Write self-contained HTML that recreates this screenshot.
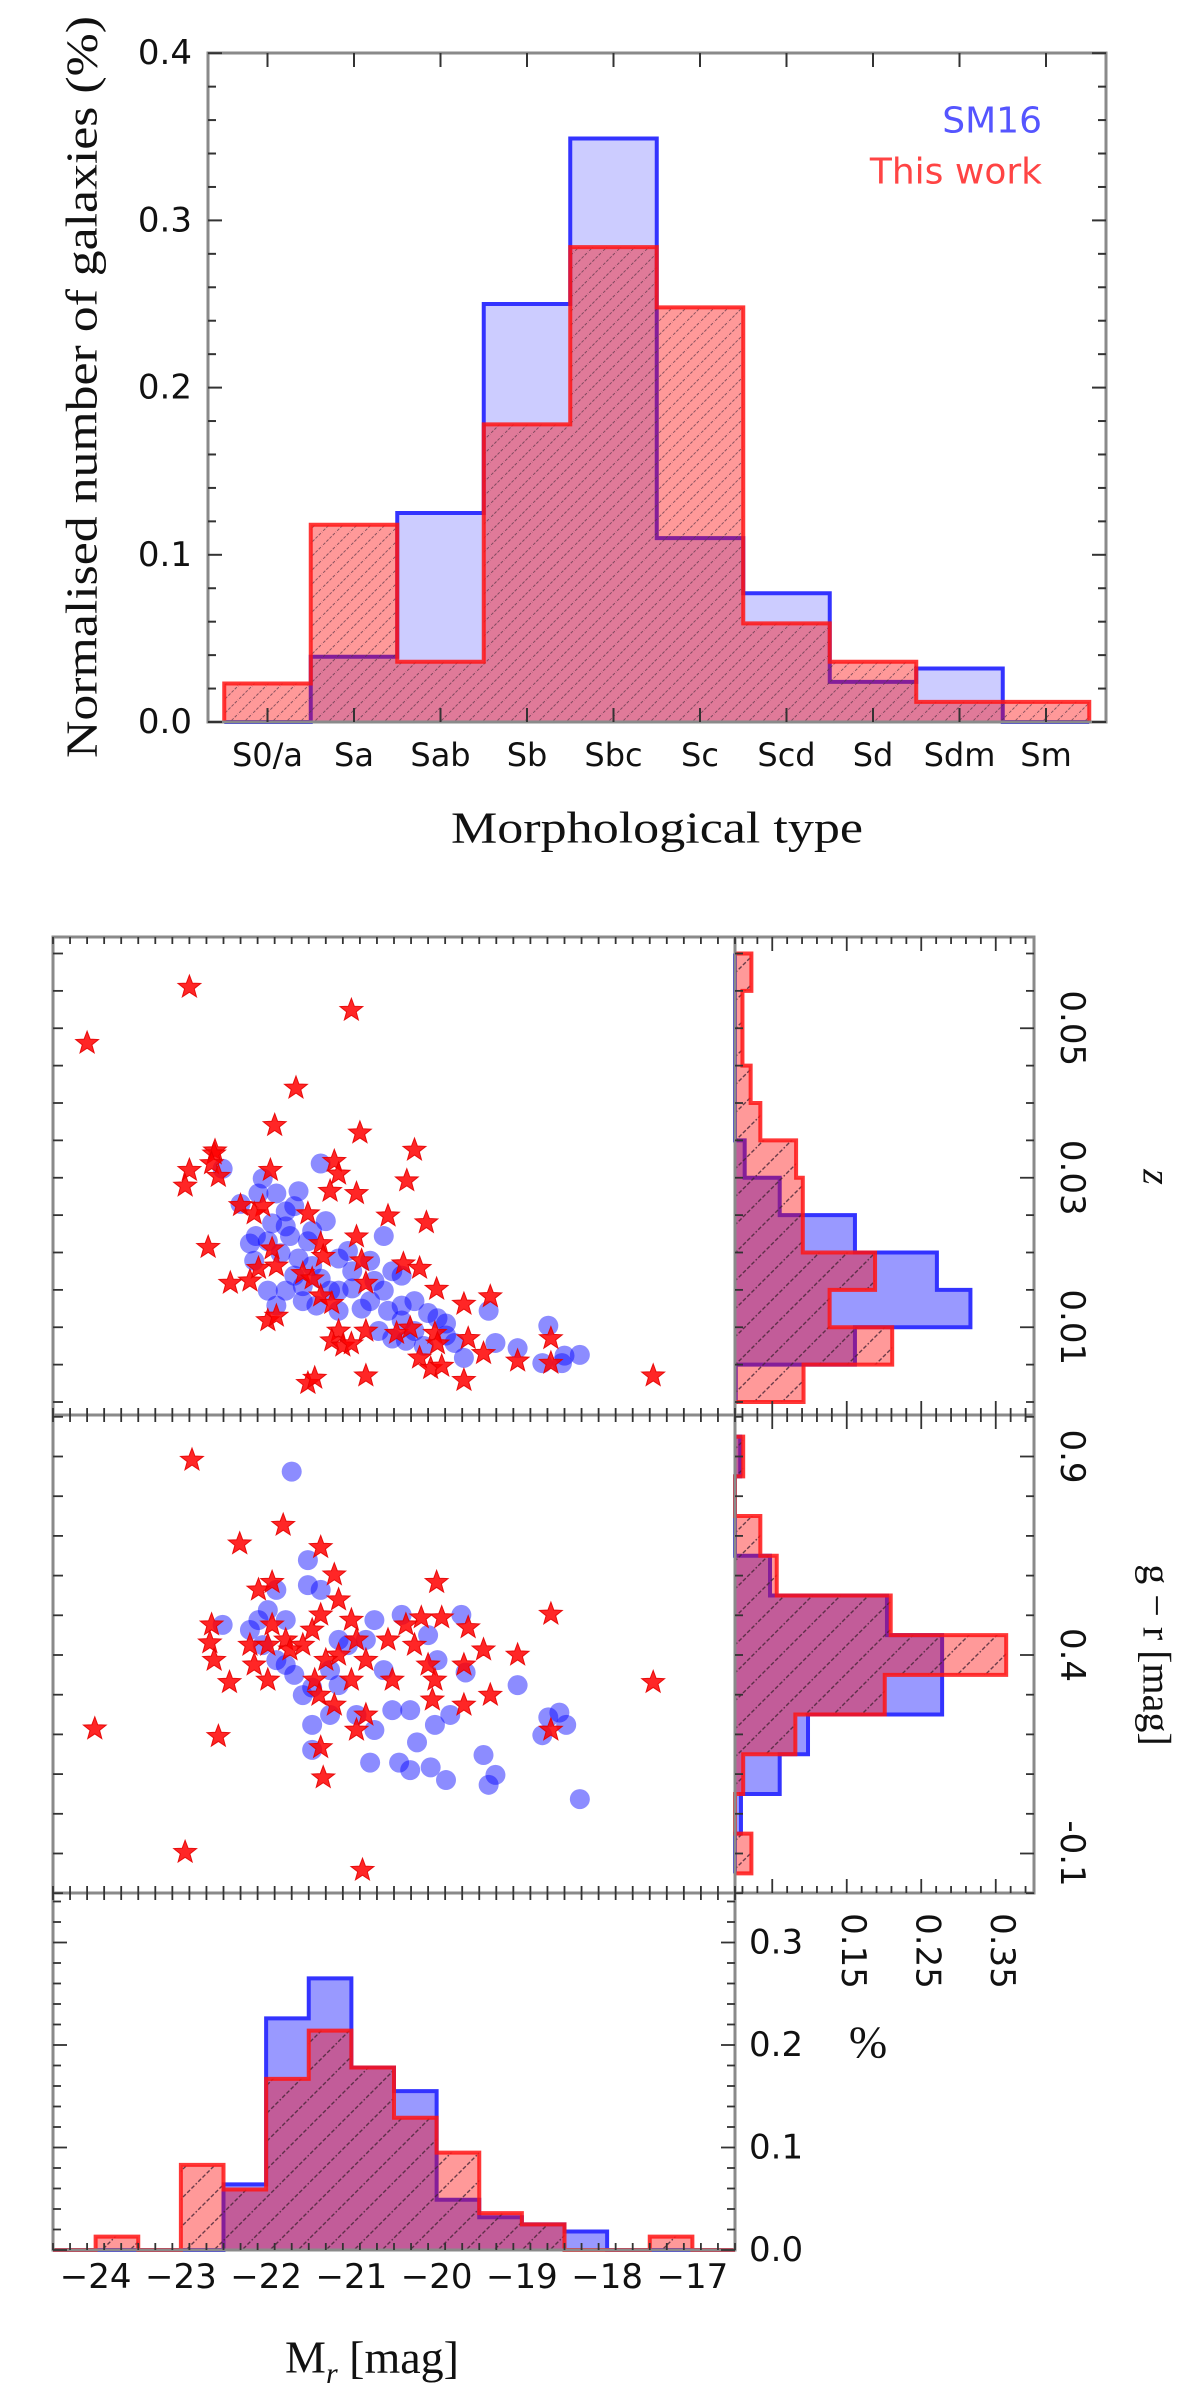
<!DOCTYPE html>
<html><head><meta charset="utf-8"><style>
html,body{margin:0;padding:0;background:#fff;}
svg{display:block;}
text{font-family:"DejaVu Sans","Liberation Sans",sans-serif;fill:#111;}
.serif{font-family:"Liberation Serif","DejaVu Serif",serif;}
</style></head><body>
<svg id="fig" width="1200" height="2400" viewBox="0 0 1200 2400" xmlns="http://www.w3.org/2000/svg">
<defs>
<pattern id="hatchA" patternUnits="userSpaceOnUse" width="14" height="14"><path d="M-2,16 L16,-2 M-2,2 L2,-2 M12,16 L16,12" stroke="#553344" stroke-width="1" stroke-dasharray="3,1.5" opacity="0.7"/></pattern>
<pattern id="hatchB" patternUnits="userSpaceOnUse" width="28" height="28"><path d="M-2,30 L30,-2 M-2,2 L2,-2 M26,30 L30,26" stroke="#442233" stroke-width="1.4" stroke-dasharray="4,2" opacity="0.8"/></pattern>
</defs>
</svg>
<script>
// ---------- data ----------
const categories = ['S0/a','Sa','Sab','Sb','Sbc','Sc','Scd','Sd','Sdm','Sm'];
const morphSM16 = [0,0.039,0.125,0.25,0.349,0.11,0.077,0.024,0.032,0];
const morphThisWork = [0.023,0.118,0.036,0.178,0.284,0.248,0.059,0.036,0.012,0.012];
const morphYTicks = ['0.0','0.1','0.2','0.3','0.4'];

const mrStart = -24.5, mrStep = 0.5;
const mrRed  = [0,0.013,0,0.083,0.059,0.167,0.214,0.178,0.129,0.095,0.036,0.025,0,0,0.013,0];
const mrBlue = [0,0,0,0,0.064,0.226,0.265,0.178,0.155,0.049,0.032,0.025,0.018,0,0,0];
const mrTicks = [-24,-23,-22,-21,-20,-19,-18,-17];
const pctTicks = ['0.0','0.1','0.2','0.3'];

const zStart = 0, zStep = 0.005;
const zRed  = [0.092,0.211,0.127,0.188,0.091,0.091,0.082,0.034,0.021,0.010,0.010,0.022];
const zBlue = [0.001,0.161,0.316,0.271,0.161,0.060,0.013,0,0,0,0,0];
const zTickLabels = ['0.01','0.03','0.05'];

const grStart = -0.15, grStep = 0.1;
const grRed  = [0.022,0,0.011,0.081,0.201,0.364,0.209,0.056,0.034,0,0.011];
const grBlue = [0,0.008,0.060,0.098,0.278,0.278,0.204,0.047,0,0,0.007];
const grTickLabels = ['-0.1','0.4','0.9'];
const pctMarginTicks = ['0.15','0.25','0.35'];

const starMrZ = [[-22.9,0.0555],[-21.0,0.0524],[-24.1,0.048],[-21.65,0.042],[-20.9,0.036],[-21.9,0.037],[-20.35,0.0296],[-22.6,0.0336],[-22.9,0.031],
[-22.61,0.0332],[-22.64,0.0319],[-22.56,0.0302],[-22.95,0.0289],[-21.95,0.031],[-21.2,0.0322],[-21.15,0.0305],[-21.25,0.0282],[-20.94,0.0279],[-20.26,0.0337],
[-22.3,0.0263],[-22.04,0.0262],[-22.14,0.0252],[-21.51,0.0252],[-20.57,0.0249],[-20.12,0.024],[-20.94,0.0221],[-22.68,0.0207],[-21.93,0.0205],[-21.36,0.0212],
[-21.33,0.0195],[-22.09,0.0179],[-21.88,0.0182],[-21.57,0.0172],[-21.46,0.0165],[-20.88,0.0189],[-20.39,0.0185],[-20.2,0.0179],[-22.42,0.0159],[-22.19,0.0162],
[-20.83,0.0159],[-21.36,0.0142],[-21.23,0.0132],[-20.0,0.0151],[-19.68,0.0131],[-19.37,0.0141],[-21.98,0.0109],[-21.88,0.0115],[-21.15,0.0095],[-20.83,0.0095],
[-20.47,0.0092],[-20.31,0.0099],[-21.23,0.0082],[-21.1,0.0075],[-21.0,0.0078],[-20.02,0.0092],[-19.99,0.0078],[-19.63,0.0085],[-19.45,0.0065],[-20.2,0.0059],
[-20.07,0.0045],[-19.94,0.0048],[-19.05,0.0055],[-18.66,0.0085],[-18.66,0.0052],[-20.83,0.0035],[-21.51,0.0025],[-21.43,0.0032],[-19.68,0.0029],[-17.46,0.0035]];
const circMrZ = [[-22.51,0.0312],[-22.04,0.0299],[-22.09,0.0279],[-21.88,0.0279],[-21.62,0.0282],[-21.36,0.0319],[-21.67,0.0262],[-22.12,0.0222],[-21.77,0.0235],
[-21.72,0.0222],[-21.51,0.0215],[-21.98,0.0215],[-21.83,0.0199],[-21.62,0.0192],[-21.46,0.0182],[-21.15,0.0192],[-21.04,0.0202],[-20.62,0.0222],[-20.78,0.0189],
[-20.52,0.0175],[-20.41,0.0169],[-22.14,0.0189],[-21.98,0.0149],[-21.77,0.0149],[-21.88,0.0129],[-21.57,0.0135],[-21.41,0.0129],[-21.25,0.0149],[-20.99,0.0152],
[-20.78,0.0135],[-20.62,0.0149],[-20.57,0.0122],[-20.41,0.0129],[-20.26,0.0135],[-20.1,0.0119],[-19.99,0.0112],[-19.89,0.0105],[-20.68,0.0095],[-20.52,0.0085],
[-20.36,0.0082],[-20.15,0.0075],[-19.79,0.0079],[-19.68,0.0059],[-19.31,0.0079],[-19.39,0.0122],[-19.05,0.0072],[-18.76,0.0052],[-18.69,0.0102],[-18.5,0.0062],
[-18.32,0.0063],[-18.53,0.0052],[-21.46,0.0229],[-21.3,0.0242],[-20.99,0.0175],[-20.73,0.0162],[-21.67,0.0169],[-21.36,0.0165],[-22.19,0.0212],[-21.57,0.0155],
[-21.93,0.0239],[-22.3,0.0265],[-21.77,0.0255],[-21.15,0.0149],[-20.88,0.0125],[-21.15,0.0122],[-20.41,0.0109],[-20.26,0.0095],[-19.89,0.0089]];
const starMrGr = [[-22.87,0.891],[-21.8,0.727],[-22.31,0.68],[-21.36,0.671],[-21.2,0.602],[-22.09,0.564],[-21.93,0.583],[-20.0,0.583],[-18.66,0.503],[-22.64,0.476],
[-22.66,0.431],[-22.61,0.387],[-22.43,0.331],[-22.19,0.425],[-22.14,0.375],[-21.98,0.337],[-21.93,0.476],[-21.77,0.438],[-21.57,0.425],[-21.46,0.463],[-21.36,0.501],
[-21.15,0.539],[-21.0,0.488],[-20.94,0.438],[-20.83,0.387],[-21.15,0.4],[-21.3,0.387],[-21.43,0.337],[-21.38,0.299],[-21.2,0.274],[-21.0,0.337],[-20.94,0.211],
[-20.83,0.249],[-20.57,0.438],[-20.52,0.337],[-20.36,0.476],[-20.26,0.425],[-20.18,0.494],[-19.94,0.494],[-20.1,0.375],[-20.02,0.337],[-20.05,0.287],[-19.63,0.469],
[-19.45,0.413],[-19.68,0.375],[-19.68,0.274],[-19.37,0.299],[-19.05,0.4],[-18.66,0.211],[-17.46,0.331],[-24.01,0.214],[-22.56,0.195],[-21.36,0.167],[-21.33,0.091],
[-22.95,-0.097],[-20.87,-0.142],[-21.98,0.425],[-21.72,0.413]];
const circMrGr = [[-21.7,0.862],[-21.51,0.639],[-22.51,0.476],[-22.09,0.488],[-21.98,0.513],[-21.88,0.564],[-21.77,0.488],[-21.51,0.576],[-21.36,0.564],[-22.04,0.425],
[-21.77,0.375],[-21.67,0.35],[-21.57,0.299],[-21.46,0.318],[-21.25,0.249],[-21.46,0.224],[-21.25,0.362],[-21.04,0.425],[-20.94,0.249],[-20.73,0.488],[-20.73,0.211],
[-20.62,0.362],[-20.52,0.261],[-20.41,0.501],[-20.31,0.261],[-20.1,0.45],[-19.99,0.387],[-20.02,0.224],[-19.84,0.249],[-19.71,0.501],[-19.66,0.356],[-19.05,0.324],
[-18.69,0.243],[-18.56,0.255],[-18.48,0.224],[-18.76,0.198],[-21.46,0.161],[-20.23,0.18],[-20.78,0.129],[-20.44,0.129],[-20.31,0.11],[-20.07,0.117],[-19.89,0.085],
[-19.45,0.148],[-19.31,0.098],[-19.39,0.073],[-18.32,0.037],[-21.88,0.387],[-22.19,0.463],[-21.15,0.438],[-20.83,0.438],[-21.15,0.324]];

// ---------- helpers ----------
const NS='http://www.w3.org/2000/svg';
const svg=document.getElementById('fig');
function mk(tag, attrs, parent){const e=document.createElementNS(NS,tag);for(const k in attrs)e.setAttribute(k,attrs[k]);(parent||svg).appendChild(e);return e;}
function txt(s, x, y, size, anchor, cls, rot){
  const t=mk('text',{x:x,y:y,'font-size':size,'text-anchor':anchor||'middle','dominant-baseline':'central'});
  if(cls)t.setAttribute('class',cls);
  if(rot)t.setAttribute('transform','rotate('+rot+' '+x+' '+y+')');
  t.textContent=s;return t;}
function line(x1,y1,x2,y2,w,c){return mk('line',{x1:x1,y1:y1,x2:x2,y2:y2,stroke:c||'#333','stroke-width':w||2});}
function frame(x,y,w,h){return mk('rect',{x:x,y:y,width:w,height:h,fill:'none',stroke:'#8a8a8a','stroke-width':3});}
function vHistPath(edges, vals, fx, fy){
  let d='M'+fx(edges[0])+','+fy(0);
  vals.forEach((v,i)=>{d+=' L'+fx(edges[i])+','+fy(v)+' L'+fx(edges[i+1])+','+fy(v);});
  d+=' L'+fx(edges[edges.length-1])+','+fy(0);return d;}
function hHistPath(edges, vals, fv, fy){
  let d='M'+fv(0)+','+fy(edges[0]);
  vals.forEach((v,i)=>{d+=' L'+fv(v)+','+fy(edges[i])+' L'+fv(v)+','+fy(edges[i+1]);});
  d+=' L'+fv(0)+','+fy(edges[edges.length-1]);return d;}
function edgesFrom(start, step, n){const e=[];for(let i=0;i<=n;i++)e.push(+(start+i*step).toFixed(4));return e;}
function drawHistPair(dBlue, dRed, blueAlpha, hatch, name){
  const b=mk('path',{d:dBlue,fill:'rgba(0,0,255,'+blueAlpha+')',stroke:'#3333ff','stroke-width':4,'stroke-linejoin':'miter'});
  
  
  const r=mk('path',{d:dRed,fill:'rgba(255,0,0,0.4)',stroke:'none'});
  
  
  const h=mk('path',{d:dRed,fill:'url(#'+hatch+')',stroke:'none'});
  
  
  const ro=mk('path',{d:dRed,fill:'none',stroke:'rgba(255,20,20,0.85)','stroke-width':4});
  
  
}
function star(cx,cy,R){let p=[];for(let k=0;k<10;k++){const r=k%2?R*0.42:R;const a=-Math.PI/2+k*Math.PI/5;p.push((cx+r*Math.cos(a)).toFixed(1)+','+(cy+r*Math.sin(a)).toFixed(1));}return p.join(' ');}

// ---------- top chart ----------
const xT = i => 267.5 + i*86.5;
const yT = v => 722 - v*1672;
const morphEdges = categories.map((c,i)=>i-0.5).concat([categories.length-0.5]);
drawHistPair(vHistPath(morphEdges, morphSM16, xT, yT), vHistPath(morphEdges, morphThisWork, xT, yT), 0.2, 'hatchA', 'morph-hist');
const topFrame = frame(208,53,898,669);


categories.forEach((c,i)=>{
  line(xT(i),722,xT(i),708);line(xT(i),53,xT(i),67);
  const t=txt(c,xT(i),755,32);
  
  
});
for(let k=0;k<=20;k++){const v=k*0.02;const major=k%5===0;const L=major?14:8;
  line(208,yT(v),208+L,yT(v));line(1106,yT(v),1106-L,yT(v));}
morphYTicks.forEach((s,i)=>{const t=txt(s,192,yT(i*0.1),34,'end');
  
  });
const ylab=txt('Normalised number of galaxies (%)',82,387,44,'middle','serif',-90);
ylab.setAttribute('textLength','742');ylab.setAttribute('lengthAdjust','spacingAndGlyphs');


const xlab=txt('Morphological type',657,828,44,'middle','serif');
xlab.setAttribute('textLength','412');xlab.setAttribute('lengthAdjust','spacingAndGlyphs');


const lg1=txt('SM16',1042,121,36,'end');lg1.style.fill='#5555ff';


const lg2=txt('This work',1042,172,36,'end');lg2.style.fill='#ff4444';



// ---------- lower grid ----------
const xM = m => 53 + (m+24.5)*85.25;
const yZ = z => 1402 - z*7475;
const yG = g => 1655 - (g-0.4)*397;
const yB = v => 2250 - v*1025;
const xV = v => 735 + v*745;

const mrEdges = edgesFrom(mrStart, mrStep, mrRed.length);
drawHistPair(vHistPath(mrEdges, mrBlue, xM, yB), vHistPath(mrEdges, mrRed, xM, yB), 0.4, 'hatchB', 'mr-hist');
const zEdges = edgesFrom(zStart, zStep, zRed.length);
drawHistPair(hHistPath(zEdges, zBlue, xV, yZ), hHistPath(zEdges, zRed, xV, yZ), 0.4, 'hatchB', 'z-hist');
const grEdges = edgesFrom(grStart, grStep, grRed.length);
drawHistPair(hHistPath(grEdges, grBlue, xV, yG), hHistPath(grEdges, grRed, xV, yG), 0.4, 'hatchB', 'gr-hist');

const gS1=mk('g',{});


circMrZ.forEach(p=>{const c=mk('circle',{cx:xM(p[0]),cy:yZ(p[1]),r:10,fill:'rgba(0,0,255,0.45)'},gS1);
  
  });
starMrZ.forEach(p=>{const s=mk('polygon',{points:star(xM(p[0]),yZ(p[1]),12),fill:'rgba(255,0,0,0.85)',stroke:'rgba(230,0,0,0.9)','stroke-width':1},gS1);
  
  });
const gS2=mk('g',{});


circMrGr.forEach(p=>{const c=mk('circle',{cx:xM(p[0]),cy:yG(p[1]),r:10,fill:'rgba(0,0,255,0.45)'},gS2);
  
  });
starMrGr.forEach(p=>{const s=mk('polygon',{points:star(xM(p[0]),yG(p[1]),12),fill:'rgba(255,0,0,0.85)',stroke:'rgba(230,0,0,0.9)','stroke-width':1},gS2);
  
  });

[[53,937,682,478,'scatter-z-frame'],[53,1415,682,478,'scatter-gr-frame'],[53,1893,682,357,'mr-hist-frame'],[735,937,299,478,'z-hist-frame'],[735,1415,299,478,'gr-hist-frame']].forEach(f=>{
  const r=frame(f[0],f[1],f[2],f[3]);
  
  });

[[937,1415],[1415,1893],[1893,2250]].forEach(pr=>{
  for(let k=0;k<=40;k++){const m=-24.5+k*0.2;const major=Math.abs(m-Math.round(m))<1e-6;const L=major?14:7;
    line(xM(m),pr[0],xM(m),pr[0]+L,1.8);line(xM(m),pr[1],xM(m),pr[1]-L,1.8);}
});
mrTicks.forEach(m=>{const t=txt('\u2212'+Math.abs(m),xM(m),2277,34);
  
  });
const mrLab=txt('M',372,2357,46,'middle','serif');


const ts=mk('tspan',{'baseline-shift':'sub','font-size':30,'font-style':'italic'},mrLab);ts.textContent='r';
const ts2=mk('tspan',{},mrLab);ts2.textContent=' [mag]';

for(let k=0;k<=12;k++){const z=k*0.005;const major=(k%4===2);
  line(53,yZ(z),63,yZ(z),1.8);line(735,yZ(z),743,yZ(z),1.8);line(1034,yZ(z),1034-(major?14:8),yZ(z),1.8);}
zTickLabels.forEach((s,i)=>{const t=txt(s,1072,yZ(0.01+i*0.02),34,'middle',null,90);
  
  });
const zLab=txt('z',1157,1177,40,'middle','serif',90);zLab.setAttribute('font-style','italic');



for(let k=0;k<=12;k++){const g=-0.2+k*0.1;const major=(k%5===1);
  line(53,yG(g),63,yG(g),1.8);line(735,yG(g),743,yG(g),1.8);line(1034,yG(g),1034-(major?14:8),yG(g),1.8);}
grTickLabels.forEach((s,i)=>{const t=txt(s,1072,yG(-0.1+i*0.5),34,'middle',null,90);
  
  });
const grLab=txt('g \u2212 r [mag]',1157,1655,40,'middle','serif',90);



[937,1415,1893].forEach((y,j)=>{
  for(let k=-2;k<=17;k++){const v=0.05+k*0.02;const x=xV(v);if(x<737||x>1032)continue;const major=(k%5===0);const L=major?14:7;
    if(j!==1){line(x,y,x,y+(j===0?L:-L),1.8);}else{line(x,y-L,x,y+L,1.8);}}
});
pctMarginTicks.forEach((s,i)=>{const t=txt(s,xV(0.15+i*0.1)+6,1951,34,'middle',null,90);
  
  });

for(let k=0;k<=17;k++){const v=k*0.02;const major=k%5===0;const L=major?14:8;
  line(53,yB(v),53+L,yB(v),1.8);line(735,yB(v),735-L,yB(v),1.8);}
pctTicks.forEach((s,i)=>{const t=txt(s,749,yB(i*0.1),34,'start');
  
  });
const pLab=txt('%',868,2042,46,'middle','serif');


</script>
</body></html>
